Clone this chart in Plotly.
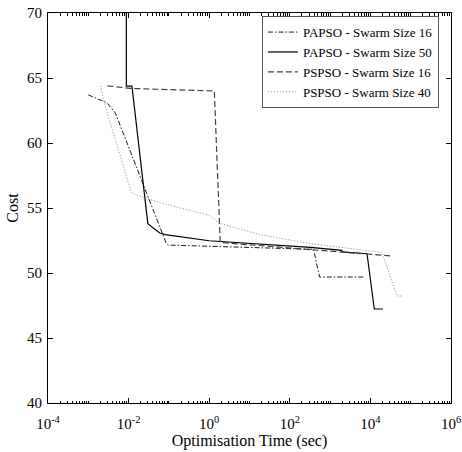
import plotly.graph_objects as go

# ---- data ----
papso16_t = [0.001, 0.0029, 0.0047, 0.086, 0.095, 389, 548, 7470]
papso16_c = [63.7, 63.1, 62.3, 52.28, 52.15, 51.82, 49.69, 49.69]

papso50_t = [0.0088, 0.0088, 0.0121, 0.030, 0.059, 0.081, 1.0, 323, 1970, 1970, 8240, 12500, 20500]
papso50_c = [75.0, 64.38, 64.38, 53.8, 53.08, 52.95, 52.48, 51.97, 51.74, 51.62, 51.48, 47.23, 47.23]

pspso16_t = [0.0030, 0.011, 1.34, 1.88, 323, 8240, 36500]
pspso16_c = [64.4, 64.2, 64.0, 52.35, 51.8, 51.44, 51.3]

pspso40_t = [0.002, 0.0025, 0.0117, 0.017, 0.062, 1.0, 1.71, 18.6, 270, 19400, 45700, 64400]
pspso40_c = [64.4, 63.05, 56.2, 55.97, 55.4, 54.43, 53.85, 52.95, 52.3, 51.58, 48.23, 48.23]

names = ["PAPSO - Swarm Size 16", "PAPSO - Swarm Size 50",
         "PSPSO - Swarm Size 16", "PSPSO - Swarm Size 40"]

x_major = [1e-4, 1e-2, 1e0, 1e2, 1e4, 1e6]
x_major_text = ["10<sup>-4</sup>", "10<sup>-2</sup>", "10<sup>0</sup>",
                "10<sup>2</sup>", "10<sup>4</sup>", "10<sup>6</sup>"]
x_minor = [m * 10.0 ** e for e in range(-4, 6) for m in range(1, 10)
           if not (m == 1 and e % 2 == 0)]
y_ticks = [40, 45, 50, 55, 60, 65, 70]

FONT = "Liberation Serif, Times New Roman, serif"

fig = go.Figure()
styles = [
    dict(color="#1a1a1a", width=1.0, dash="5px,2px,1.5px,2px"),
    dict(color="#000000", width=1.2, dash="solid"),
    dict(color="#404040", width=1.2, dash="6px,3px"),
    dict(color="#999999", width=1.0, dash="1.2px,1.8px"),
]
for t, c, n, s in zip([papso16_t, papso50_t, pspso16_t, pspso40_t],
                      [papso16_c, papso50_c, pspso16_c, pspso40_c], names, styles):
    fig.add_trace(go.Scatter(x=t, y=c, mode="lines", name=n, line=s))

# helper trace for the minor-tick overlay axis
fig.add_trace(go.Scatter(x=[1e-4], y=[40], xaxis="x2", mode="markers",
                         marker=dict(opacity=0), showlegend=False, hoverinfo="skip"))

fig.update_layout(
    width=462, height=452,
    margin=dict(l=48, r=11, t=13, b=49, autoexpand=False),
    paper_bgcolor="white", plot_bgcolor="white",
    font=dict(family=FONT, size=15, color="black"),
    showlegend=True,
    legend=dict(x=0.970, y=0.992, xanchor="right", yanchor="top",
                bgcolor="white", bordercolor="#555555", borderwidth=1,
                font=dict(family=FONT, size=13), tracegroupgap=0),
    xaxis=dict(type="log", range=[-4, 6], tickvals=x_major, ticktext=x_major_text,
               ticks="inside", ticklen=5, tickcolor="black", showgrid=False,
               zeroline=False, showline=True, linecolor="black", linewidth=1,
               mirror="ticks", automargin=False, ticklabeloverflow="allow",
               ticklabelstandoff=7,
               title=dict(text="Optimisation Time (sec)", standoff=0,
                          font=dict(family=FONT, size=16)),
               tickfont=dict(family=FONT, size=15)),
    xaxis2=dict(type="log", range=[-4, 6], overlaying="x", anchor="y", side="bottom",
                tickvals=x_minor, ticks="inside", ticklen=2.5, tickcolor="black",
                showticklabels=False, showgrid=False, zeroline=False,
                showline=False, mirror="ticks", automargin=False),
    yaxis=dict(range=[40, 70], tickvals=y_ticks, ticks="inside", ticklen=5,
               tickcolor="black", showgrid=False, zeroline=False, showline=True,
               linecolor="black", linewidth=1, mirror="ticks", automargin=False,
               ticklabeloverflow="allow", ticklabelstandoff=2,
               title=dict(text="Cost", standoff=4, font=dict(family=FONT, size=16)),
               tickfont=dict(family=FONT, size=15)),
)

fig.write_html("out.html", config={"displayModeBar": False},
               post_script="document.body.style.margin='0';")
